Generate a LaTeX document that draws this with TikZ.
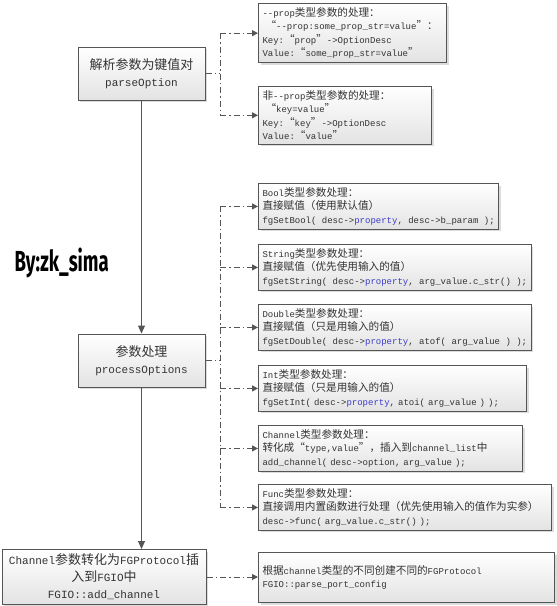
\documentclass[tikz,border=0pt]{standalone}
\usepackage{fontspec}
\setmainfont{Liberation Mono}
\newfontfamily\zhfont[Scale=1.18]{Noto Sans CJK SC}
\newfontfamily\firmafont[FakeStretch=0.64]{Fira Sans}
\usetikzlibrary{arrows.meta,shadows}
\definecolor{tinta}{HTML}{333333}
\definecolor{borde}{HTML}{555555}
\definecolor{azulprop}{HTML}{3C3CC8}
\newcommand{\zh}[1]{{\zhfont #1}}
\newcommand{\prop}{\textcolor{azulprop}{property}}

\begin{document}
\begin{tikzpicture}[
    x=1pt, y=-1pt,
    caja/.style={draw=borde, line width=1pt, top color=white, bottom color=black!11,
        drop shadow={shadow xshift=2pt, shadow yshift=-2pt, fill=black!30, opacity=.45},
        text=tinta},
    principal/.style={caja, align=center, minimum width=127pt, minimum height=53pt,
        inner sep=2pt, font=\fontsize{11}{17}\selectfont},
    nota/.style={caja, align=left, anchor=north west, inner xsep=4pt, inner ysep=4pt,
        font=\fontsize{9}{13.5}\selectfont},
    flujo/.style={draw=borde, line width=1.1pt, -{Triangle[length=8pt,width=7pt]}},
    ramal/.style={draw=borde, line width=1pt, dash pattern=on 6pt off 3pt on 1.5pt off 3pt},
    punta/.style={-{Triangle[length=6pt,width=6pt]}}]
    \useasboundingbox (0,0) rectangle (557,606);

    % Pasos principales.
    \node[principal] (parse) at (141.5,73.5) {\zh{解析参数为键值对}\\parseOption};
    \node[principal] (process) at (141.5,360.5) {\zh{参数处理}\\processOptions};
    \node[principal, minimum width=204pt, minimum height=55pt] (canal) at (104,577)
        {Channel\zh{参数转化为}FGProtocol\zh{插}\\\zh{入到}FGIO\zh{中}\\FGIO::add\_channel};

    % Notas de parseOption.
    \node[nota, text width=180pt] (prop) at (258,3) {-{}-prop\zh{类型参数的处理：}\\
        \hspace*{3pt}\zh{“}-{}-prop:some\_prop\_str=value\zh{”：}\\
        Key:\zh{“}prop\zh{”}->OptionDesc\\
        Value:\zh{“}some\_prop\_str=value\zh{”}};
    \node[nota, text width=165pt] (noprop) at (258,86) {\zh{非}-{}-prop\zh{类型参数的处理：}\\
        \hspace*{3pt}\zh{“}key=value\zh{”}\\
        Key:\zh{“}key\zh{”}->OptionDesc\\
        Value:\zh{“}value\zh{”}};

    % Notas de processOptions.
    \node[nota] (bool) at (258,183) {Bool\zh{类型参数处理：}\\
        \zh{直接赋值（使用默认值）}\\
        fgSetBool( desc->\prop, desc->b\_param );};
    \node[nota] (string) at (258,244) {String\zh{类型参数处理：}\\
        \zh{直接赋值（优先使用输入的值）}\\
        fgSetString( desc->\prop, arg\_value.c\_str() );};
    \node[nota] (double) at (258,304) {Double\zh{类型参数处理：}\\
        \zh{直接赋值（只是用输入的值）}\\
        fgSetDouble( desc->\prop, atof( arg\_value ) );};
    \node[nota, text width=260pt] (int) at (258,365) {Int\zh{类型参数处理：}\\
        \zh{直接赋值（只是用输入的值）}\\
        fgSetInt( desc->\prop, atoi( arg\_value ) );};
    \node[nota, text width=256pt] (channel) at (258,425) {Channel\zh{类型参数处理：}\\
        \zh{转化成“}type,value\zh{”，插入到}channel\_list\zh{中}\\
        add\_channel( desc->option, arg\_value );};
    \node[nota, text width=285pt] (func) at (258,484) {Func\zh{类型参数处理：}\\
        \zh{直接调用内置函数进行处理（优先使用输入的值作为实参）}\\
        desc->func( arg\_value.c\_str() );};

    % Nota de add_channel.
    \node[nota, text width=288pt, minimum height=50pt] (protocolo) at (258,552)
        {\zh{根据}channel\zh{类型的不同创建不同的}FGProtocol\\FGIO::parse\_port\_config};

    % Flujo principal.
    \draw[flujo] (parse) -- (process);
    \draw[flujo] (process.south) -- (process.south |- canal.north);

    % Ramas punteadas.
    \coordinate (eje) at (220,0);
    \draw[ramal] (parse.east) -- (parse.east -| eje);
    \draw[ramal] (eje |- prop.west) -- (eje |- noprop.west);
    \draw[ramal,punta] (eje |- prop.west) -- (prop.west);
    \draw[ramal,punta] (eje |- noprop.west) -- (noprop.west);

    \draw[ramal] (process.east) -- (process.east -| eje);
    \draw[ramal] (eje |- bool.west) -- (eje |- func.west);
    \draw[ramal,punta] (eje |- bool.west) -- (bool.west);
    \draw[ramal,punta] (eje |- string.west) -- (string.west);
    \draw[ramal,punta] (eje |- double.west) -- (double.west);
    \draw[ramal,punta] (eje |- int.west) -- (int.west);
    \draw[ramal,punta] (eje |- channel.west) -- (channel.west);
    \draw[ramal,punta] (eje |- func.west) -- (func.west);

    \draw[ramal,punta] (canal.east) -- (canal.east -| protocolo.west);

    % Firma.
    \node[anchor=west, font=\fontsize{29}{30}\selectfont] (firma) at (11,263)
        {\firmafont\bfseries By:zk\_sima};
\end{tikzpicture}
\end{document}
